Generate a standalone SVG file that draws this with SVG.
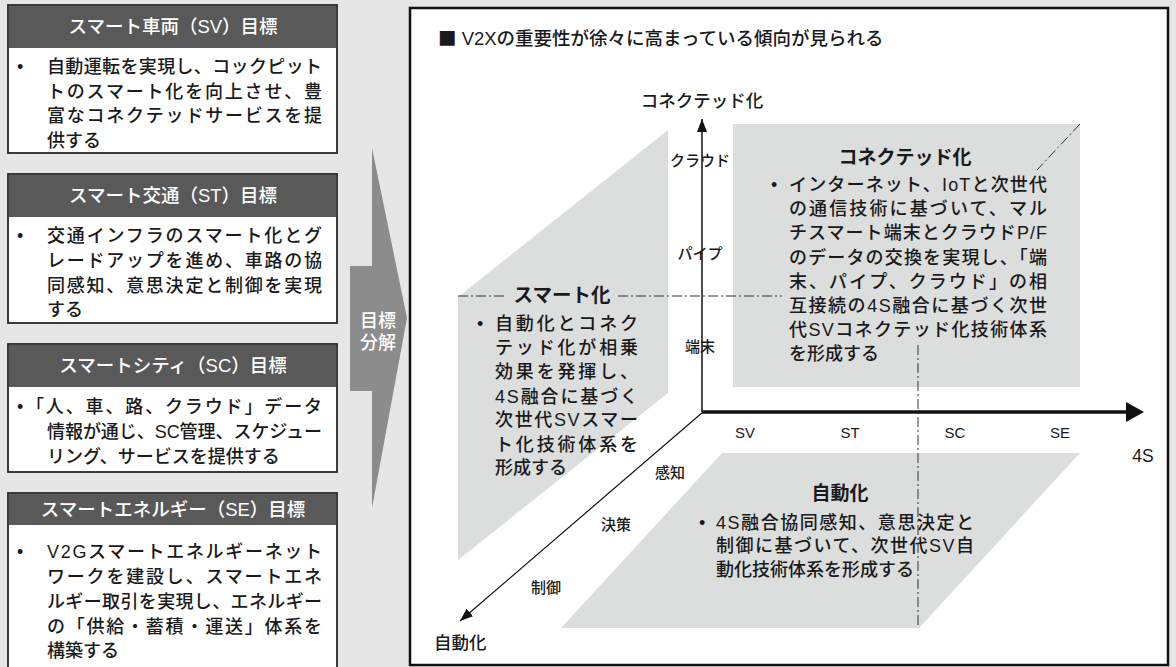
<svg xmlns="http://www.w3.org/2000/svg" width="1176" height="667" viewBox="0 0 1176 667">
<defs>
<style>
text{font-family:"Liberation Sans","Noto Sans CJK JP",sans-serif;fill:#1a1a1a;font-weight:500}
.hd{font-size:18.5px;fill:#ffffff;text-anchor:middle}
.bd{font-size:18px}
.lbl{font-size:15px;text-anchor:middle}
.ax{font-size:17.5px}
.ttl{font-size:19px;font-weight:bold;text-anchor:middle}
.pt{font-size:18px}
.sq{font-family:"Noto Sans CJK JP",sans-serif}
.box{fill:#ffffff;stroke:#262626;stroke-width:1.8}
.hdr{fill:#595959}
.pnl{fill:#dcdddd}
.dd{fill:none;stroke:#333333;stroke-width:1;stroke-dasharray:10 3 2 3}
</style>
<marker id="ah" viewBox="0 0 10 10" refX="10" refY="5" markerWidth="13" markerHeight="10" orient="auto" markerUnits="userSpaceOnUse" preserveAspectRatio="none">
<path d="M0,0 L10,5 L0,10 z" fill="#111"/>
</marker>
</defs>
<rect x="0" y="0" width="1176" height="667" fill="#e6e6e6"/>

<g id="goal-sv">
<rect class="box" x="8" y="5" width="329" height="148"/>
<rect class="hdr" x="8.9" y="5.9" width="327.2" height="42.1"/>
<text class="hd" x="173" y="33">スマート車両（SV）目標</text>
<text class="bd" x="17" y="73">•</text>
<text class="bd" x="47" y="73" textLength="275" lengthAdjust="spacing">自動運転を実現し、コックピット</text>
<text class="bd" x="47" y="98" textLength="275" lengthAdjust="spacing">トのスマート化を向上させ、豊</text>
<text class="bd" x="47" y="122" textLength="275" lengthAdjust="spacing">富なコネクテッドサービスを提</text>
<text class="bd" x="47" y="147">供する</text>
</g>

<g id="goal-st">
<rect class="box" x="8" y="174" width="329" height="149"/>
<rect class="hdr" x="8.9" y="174.9" width="327.2" height="42.1"/>
<text class="hd" x="173" y="202">スマート交通（ST）目標</text>
<text class="bd" x="17" y="242">•</text>
<text class="bd" x="47" y="242" textLength="275" lengthAdjust="spacing">交通インフラのスマート化とグ</text>
<text class="bd" x="47" y="267" textLength="275" lengthAdjust="spacing">レードアップを進め、車路の協</text>
<text class="bd" x="47" y="292" textLength="275" lengthAdjust="spacing">同感知、意思決定と制御を実現</text>
<text class="bd" x="47" y="316">する</text>
</g>

<g id="goal-sc">
<rect class="box" x="8" y="344" width="329" height="128"/>
<rect class="hdr" x="8.9" y="344.9" width="327.2" height="42.1"/>
<text class="hd" x="173" y="372">スマートシティ（SC）目標</text>
<text class="bd" x="17" y="413">•</text>
<text class="bd" x="26" y="413" textLength="296" lengthAdjust="spacing">「人、車、路、クラウド」データ</text>
<text class="bd" x="47" y="438" textLength="275" lengthAdjust="spacing">情報が通じ、SC管理、スケジュー</text>
<text class="bd" x="47" y="463">リング、サービスを提供する</text>
</g>

<g id="goal-se">
<rect class="box" x="8" y="493" width="329" height="190"/>
<rect class="hdr" x="8.9" y="493.9" width="327.2" height="31.1"/>
<text class="hd" x="173" y="516">スマートエネルギー（SE）目標</text>
<text class="bd" x="17" y="558">•</text>
<text class="bd" x="47" y="558" textLength="275" lengthAdjust="spacing">V2Gスマートエネルギーネット</text>
<text class="bd" x="47" y="583" textLength="275" lengthAdjust="spacing">ワークを建設し、スマートエネ</text>
<text class="bd" x="47" y="608" textLength="275" lengthAdjust="spacing">ルギー取引を実現し、エネルギー</text>
<text class="bd" x="47" y="633" textLength="275" lengthAdjust="spacing">の「供給・蓄積・運送」体系を</text>
<text class="bd" x="47" y="657">構築する</text>
</g>

<g id="decompose-arrow">
<polygon points="372,148 407,318 372,508 372,391 350,391 350,266 372,266" fill="#8c8c8c"/>
<text x="378" y="327" text-anchor="middle" style="font-size:18px;fill:#ffffff">目標</text>
<text x="378" y="349" text-anchor="middle" style="font-size:18px;fill:#ffffff">分解</text>
</g>

<g id="main-panel">
<rect x="410" y="8" width="758" height="657" fill="#ffffff" stroke="#111" stroke-width="2.5"/>
<text x="438" y="45" style="font-size:18.5px"><tspan class="sq">■</tspan> V2Xの重要性が徐々に高まっている傾向が見られる</text>
</g>

<g id="smart-panel">
<polygon class="pnl" points="458,297 668,130 668,393 458,560"/>
<text x="562" y="302" style="font-size:19.5px;font-weight:bold;text-anchor:middle">スマート化</text>
<text class="pt" x="477" y="330">•</text>
<text class="pt" x="495" y="330" textLength="143" lengthAdjust="spacing">自動化とコネク</text>
<text class="pt" x="495" y="354" textLength="143" lengthAdjust="spacing">テッド化が相乗</text>
<text class="pt" x="495" y="378" textLength="143" lengthAdjust="spacing">効果を発揮し、</text>
<text class="pt" x="495" y="403" textLength="143" lengthAdjust="spacing">4S融合に基づく</text>
<text class="pt" x="495" y="426" textLength="143" lengthAdjust="spacing">次世代SVスマー</text>
<text class="pt" x="495" y="451" textLength="143" lengthAdjust="spacing">ト化技術体系を</text>
<text class="pt" x="495" y="474">形成する</text>
</g>

<g id="connected-panel">
<rect class="pnl" x="733" y="124" width="347" height="263"/>
<text class="ttl" x="905" y="164">コネクテッド化</text>
<text class="pt" x="771" y="191">•</text>
<text class="pt" x="789" y="191" textLength="258" lengthAdjust="spacing">インターネット、IoTと次世代</text>
<text class="pt" x="789" y="215" textLength="258" lengthAdjust="spacing">の通信技術に基づいて、マル</text>
<text class="pt" x="789" y="239" textLength="258" lengthAdjust="spacing">チスマート端末とクラウドP/F</text>
<text class="pt" x="789" y="264" textLength="258" lengthAdjust="spacing">のデータの交換を実現し、「端</text>
<text class="pt" x="789" y="288" textLength="258" lengthAdjust="spacing">末、パイプ、クラウド」の相</text>
<text class="pt" x="789" y="312" textLength="258" lengthAdjust="spacing">互接続の4S融合に基づく次世</text>
<text class="pt" x="789" y="336" textLength="258" lengthAdjust="spacing">代SVコネクテッド化技術体系</text>
<text class="pt" x="789" y="360">を形成する</text>
</g>

<g id="automation-panel">
<polygon class="pnl" points="722,453 1080,453 919,628 561,628"/>
<text class="ttl" x="840" y="500">自動化</text>
<text class="pt" x="699" y="529">•</text>
<text class="pt" x="716" y="529" textLength="258" lengthAdjust="spacing">4S融合協同感知、意思決定と</text>
<text class="pt" x="716" y="552" textLength="258" lengthAdjust="spacing">制御に基づいて、次世代SV自</text>
<text class="pt" x="716" y="576">動化技術体系を形成する</text>
</g>

<g id="connectors">
<path class="dd" d="M458,296 H506"/>
<path class="dd" d="M618,296 H782"/>
<path class="dd" d="M918,345 V628"/>
<path class="dd" d="M1080,124 L1037,170"/>
<line x1="702" y1="412" x2="702" y2="119" stroke="#111" stroke-width="1.5" marker-end="url(#ah)"/>
<line x1="702" y1="412" x2="1130" y2="412" stroke="#111" stroke-width="3.5"/>
<polygon points="1126,402 1144,412 1126,422" fill="#111"/>
<line x1="703" y1="412" x2="460" y2="621" stroke="#111" stroke-width="1.2" marker-end="url(#ah)"/>
</g>

<g id="axis-labels">
<text class="ax" x="702" y="107" text-anchor="middle">コネクテッド化</text>
<text class="lbl" x="700" y="166">クラウド</text>
<text class="lbl" x="700" y="259">パイプ</text>
<text class="lbl" x="700" y="352">端末</text>
<text class="lbl" x="745" y="438">SV</text>
<text class="lbl" x="850" y="438">ST</text>
<text class="lbl" x="955" y="438">SC</text>
<text class="lbl" x="1060" y="438">SE</text>
<text class="ax" x="1143" y="462" text-anchor="middle">4S</text>
<text class="lbl" x="670" y="478">感知</text>
<text class="lbl" x="616" y="530">決策</text>
<text class="lbl" x="546" y="593">制御</text>
<text class="ax" x="434" y="649">自動化</text>
</g>
</svg>
